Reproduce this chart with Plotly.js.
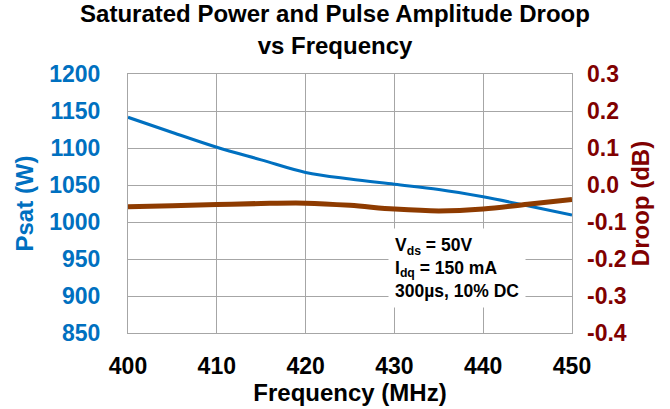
<!DOCTYPE html>
<html>
<head>
<meta charset="utf-8">
<script src="https://cdn.plot.ly/plotly-3.0.1.min.js"></script>
<style>html,body{margin:0;padding:0;background:#fff;}#chart{width:670px;height:409px;}</style>
</head>
<body>
<div id="chart"></div>
<script>
const freq = [400, 405, 410, 415, 420, 425, 430, 435, 440, 445, 450];
const psat = [1141.5, 1121, 1101, 1084, 1067, 1058, 1051, 1044, 1034, 1022, 1009.5];
const droopFreq = [400, 405, 410, 415, 420, 425, 430, 435, 440, 445, 450];
const droop = [-0.059, -0.056, -0.053, -0.050, -0.049, -0.055, -0.065, -0.070, -0.065, -0.052, -0.039];
const xTicks = [400, 410, 420, 430, 440, 450];
const psatTicks = [850, 900, 950, 1000, 1050, 1100, 1150, 1200];
const droopTicks = [-0.4, -0.3, -0.2, -0.1, 0.0, 0.1, 0.2, 0.3];

const blue = '#0070C0';
const brown = '#8E3B00';
const darkRed = '#800000';
const font = 'Liberation Sans, Arial, sans-serif';

const traces = [
  {x: freq, y: psat, type: 'scatter', mode: 'lines', line: {color: blue, width: 3, shape: 'spline'}, yaxis: 'y', hoverinfo: 'none'},
  {x: droopFreq, y: droop, type: 'scatter', mode: 'lines', line: {color: brown, width: 5, shape: 'spline'}, yaxis: 'y2', hoverinfo: 'none'}
];

const layout = {
  width: 670, height: 409,
  margin: {l: 128, r: 98, t: 74, b: 76},
  paper_bgcolor: '#fff', plot_bgcolor: '#fff',
  showlegend: false,
  font: {family: font, color: '#000'},
  title: {text: '<b>Saturated Power and Pulse Amplitude Droop<br>vs Frequency</b>', font: {size: 24, family: font, color: '#000'}, x: 0.5, xanchor: 'center', y: 0.945, yanchor: 'top', yref: 'container'},
  xaxis: {
    range: [400, 450], tickvals: xTicks, ticktext: xTicks.map(v => '<b>' + v + '</b>'),
    tickfont: {size: 23, family: font, color: '#000'},
    showgrid: true, gridcolor: '#A6A6A6', gridwidth: 1,
    showline: true, linecolor: '#A6A6A6', linewidth: 1, mirror: true,
    zeroline: false, ticks: '', ticklen: 0, ticklabelstandoff: 12,
    title: {text: '<b>Frequency (MHz)</b>', font: {size: 24, family: font, color: '#000'}, standoff: 4}
  },
  yaxis: {
    range: [850, 1200], tickvals: psatTicks, ticktext: psatTicks.map(v => '<b>' + v + '</b>'),
    tickfont: {size: 23, family: font, color: blue},
    showgrid: true, gridcolor: '#A6A6A6', gridwidth: 1,
    showline: true, linecolor: '#A6A6A6', linewidth: 1, mirror: true,
    zeroline: false, ticks: '', ticklen: 0, ticklabelstandoff: 22,
    title: {text: '<b>Psat (W)</b>', font: {size: 24, family: font, color: blue}, standoff: 8}
  },
  yaxis2: {
    overlaying: 'y', side: 'right',
    range: [-0.4, 0.3], tickvals: droopTicks, ticktext: droopTicks.map(v => '<b>' + v.toFixed(1) + '</b>'),
    tickfont: {size: 23, family: font, color: darkRed},
    showgrid: false, zeroline: false, showline: false, ticks: '', ticklen: 0, ticklabelstandoff: 14,
    title: {text: '<b>Droop (dB)</b>', font: {size: 24, family: font, color: darkRed}, standoff: 2}
  },
  annotations: [{
    xref: 'paper', yref: 'paper', x: 0.586, y: 0.405, xanchor: 'left', yanchor: 'top',
    align: 'left', showarrow: false, bgcolor: '#fff', borderpad: 6,
    text: '<b>V<sub>ds</sub> = 50V<br>I<sub>dq</sub> = 150 mA<br>300µs, 10% DC</b>',
    font: {size: 17.5, family: font, color: '#000'}
  }]
};

Plotly.newPlot('chart', traces, layout, {displayModeBar: false, staticPlot: true});
</script>
</body>
</html>
